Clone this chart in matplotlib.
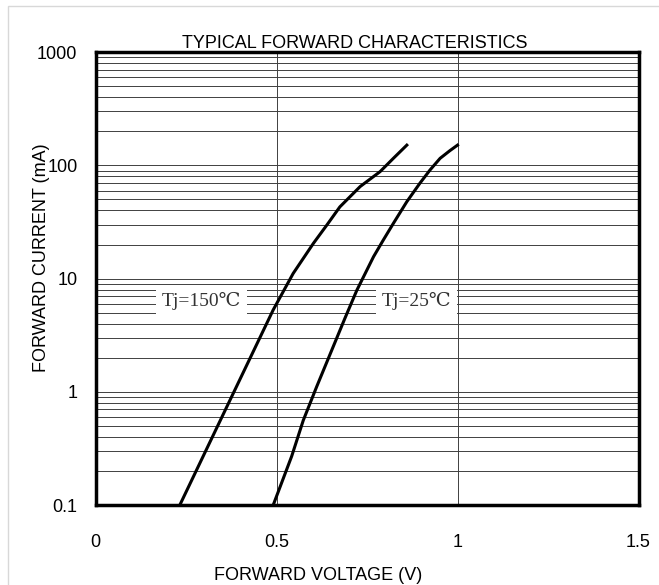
import numpy as np
import matplotlib
matplotlib.use('Agg')
import matplotlib.pyplot as plt
from matplotlib.ticker import FixedLocator, LogLocator, NullFormatter
from matplotlib.patches import Rectangle

plt.rcParams['font.family'] = ['Liberation Sans', 'DejaVu Sans']

# datos (V, mA)
v_150 = [0.233, 0.372, 0.491, 0.546, 0.602, 0.639, 0.675, 0.731, 0.749, 0.786, 0.823, 0.860]
i_150 = [0.1, 0.85, 5.3, 11.1, 20.5, 29.7, 43, 65, 71.8, 88, 115.6, 151]
v_25 = [0.491, 0.542, 0.574, 0.611, 0.689, 0.722, 0.745, 0.768, 0.795, 0.823, 0.860, 0.896, 0.924, 0.952, 0.979, 1.000]
i_25 = [0.1, 0.27, 0.56, 1.11, 4.46, 7.9, 11.1, 15.6, 21.9, 30.8, 47.8, 69.5, 91, 115.5, 135, 151]

etiquetas = ['Tj=150℃', 'Tj=25℃']
pos_etiquetas = [(0.293, 6.4), (0.888, 6.4)]

xticks = [0, 0.5, 1, 1.5]
xticklabels = ['0', '0.5', '1', '1.5']
yticks = [0.1, 1, 10, 100, 1000]
yticklabels = ['0.1', '1', '10', '100', '1000']

fig = plt.figure(figsize=(6.59, 5.85), dpi=100)
fig.patches.append(Rectangle((7.5/659, -0.1), 1.2, 1.1 - 6.5/585, transform=fig.transFigure,
                             fill=False, edgecolor='#d8d8d8', linewidth=1))
ax = fig.add_axes([95.5/659, 1-505/585, 543/659, 452.8/585])

ax.set_yscale('log')
ax.set_xlim(0, 1.5)
ax.set_ylim(0.1, 1000)

ax.yaxis.set_major_locator(FixedLocator(yticks))
ax.yaxis.set_minor_locator(LogLocator(base=10, subs=np.arange(2, 10)))
ax.yaxis.set_minor_formatter(NullFormatter())
ax.set_yticklabels(yticklabels)
ax.set_xticks(xticks)
ax.set_xticklabels(xticklabels)
ax.tick_params(which='both', length=0, labelsize=13)
ax.tick_params(axis='y', pad=13)
ax.tick_params(axis='x', pad=21)

ax.grid(True, which='both', axis='y', color='#404040', linewidth=0.7)
ax.grid(True, which='major', axis='x', color='#404040', linewidth=0.7)
ax.set_axisbelow(True)
for s in ax.spines.values():
    s.set_linewidth(2.5)
    s.set_zorder(5)

ax.plot(v_150, i_150, color='black', linewidth=2.2, zorder=4)
ax.plot(v_25, i_25, color='black', linewidth=2.2, zorder=4)

for txt, (x, y) in zip(etiquetas, pos_etiquetas):
    ax.text(x, y, txt, ha='center', va='center', fontsize=14,
            family=['Liberation Serif', 'DejaVu Serif'], color='#333333',
            bbox=dict(facecolor='white', edgecolor='none', pad=4), zorder=3)

ax.set_title('TYPICAL FORWARD CHARACTERISTICS', fontsize=13, pad=1, x=0.478)
ax.set_xlabel('FORWARD VOLTAGE (V)', fontsize=13)
ax.set_ylabel('FORWARD CURRENT (mA)', fontsize=13)
ax.xaxis.set_label_coords(0.41, -0.138)
ax.yaxis.set_label_coords(-0.084, 0.547)

plt.savefig('out.png', dpi=100)
